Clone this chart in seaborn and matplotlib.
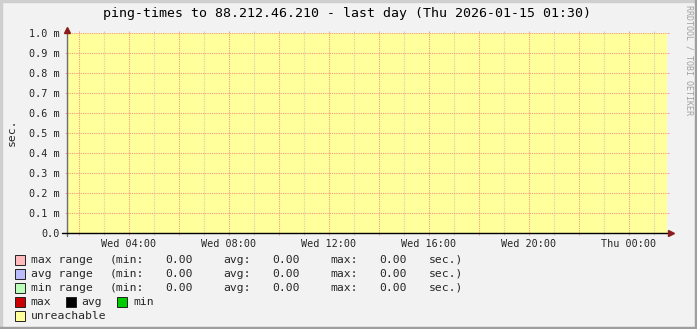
import numpy as np
import pandas as pd
import matplotlib
matplotlib.use("Agg")
import matplotlib.pyplot as plt
from matplotlib.ticker import MultipleLocator, FuncFormatter
from matplotlib.patches import Rectangle
import seaborn as sns

# ---------------- data ----------------
title = "ping-times to 88.212.46.210 - last day (Thu 2026-01-15 01:30)"
y_label = "sec."
watermark = "RRDTOOL / TOBI OETIKER"

# time window, hours since Wed 00:00 (one day ending Thu ~01:30)
window_hours = [1.54, 25.54]
# whole window is unreachable -> area up to top of graph (seconds)
unreachable_top = [1.0e-3, 1.0e-3]

x_tick_hours = [4, 8, 12, 16, 20, 24]
x_tick_labels = ["Wed 04:00", "Wed 08:00", "Wed 12:00", "Wed 16:00", "Wed 20:00", "Thu 00:00"]

y_tick_values = [0.0, 0.0001, 0.0002, 0.0003, 0.0004, 0.0005,
                 0.0006, 0.0007, 0.0008, 0.0009, 0.0010]
y_tick_labels = ["0.0", "0.1 m", "0.2 m", "0.3 m", "0.4 m", "0.5 m",
                 "0.6 m", "0.7 m", "0.8 m", "0.9 m", "1.0 m"]

range_names = ["max range", "avg range", "min range"]
range_min = [0.00, 0.00, 0.00]
range_avg = [0.00, 0.00, 0.00]
range_max = [0.00, 0.00, 0.00]
range_colors = ["#ffbbbb", "#bbbbff", "#bbffbb"]

line_names = ["max", "avg", "min"]
line_colors = ["#cc0000", "#000000", "#00cc00"]

unreach_name = "unreachable"
unreach_color = "#ffff9c"

# ---------------- style ----------------
sns.set_style("white")
plt.rcParams["font.family"] = ["DejaVu Sans Mono", "DejaVu Sans"]

W, H = 697, 329
BG = "#f2f2f2"
fig = plt.figure(figsize=(W / 100, H / 100), dpi=100, facecolor=BG)


def px(x, y):
    return x / W, 1 - y / H


# frame shading
fig.patches.append(Rectangle((0, 0), 2 / W, 1, transform=fig.transFigure, color="#cfcfcf", zorder=0))
fig.patches.append(Rectangle((0, 1 - 2 / H), 1, 2 / H, transform=fig.transFigure, color="#cfcfcf", zorder=0))
fig.patches.append(Rectangle((1 - 2.5 / W, 0), 2.5 / W, 1, transform=fig.transFigure, color="#9e9e9e", zorder=0))
fig.patches.append(Rectangle((0, 0), 1, 2.5 / H, transform=fig.transFigure, color="#9e9e9e", zorder=0))

ax = fig.add_axes([67 / W, 96 / H, 600 / W, 200 / H])
ax.set_facecolor("none")

df = pd.DataFrame({"hour": window_hours, "top": unreachable_top})
sns.lineplot(data=df, x="hour", y="top", ax=ax, color=unreach_color, linewidth=0, legend=False)
ax.fill_between(df["hour"], 0, df["top"], color=unreach_color, linewidth=0, zorder=0.2)

ax.set_xlim(window_hours)
ax.set_ylim(y_tick_values[0], y_tick_values[-1])
ax.set_xlabel("")
ax.set_ylabel("")

label_map = dict(zip(x_tick_hours, x_tick_labels))
ax.xaxis.set_major_locator(MultipleLocator(2))
ax.xaxis.set_minor_locator(MultipleLocator(1))
ax.xaxis.set_major_formatter(FuncFormatter(lambda v, p: label_map.get(int(round(v)), "")))
ax.set_yticks(y_tick_values, y_tick_labels)

dot = (0, (1, 1))
MAJ = "#f59a80"
MIN = "#d9d3a6"
ax.grid(which="major", axis="x", color=MAJ, linestyle=dot, linewidth=0.8)
ax.grid(which="minor", axis="x", color=MIN, linestyle=dot, linewidth=0.8)
ax.grid(which="major", axis="y", color=MAJ, linestyle=dot, linewidth=0.8)
ax.set_axisbelow(False)

for s in ax.spines.values():
    s.set_visible(False)

ax.tick_params(axis="x", which="major", length=1.5, width=0.72, color="#ff9d9d",
               labelsize=7.3, pad=2.5, top=True, bottom=True)
ax.tick_params(axis="x", which="minor", length=1.5, width=0.72, color="#c8c8c8",
               top=True, bottom=True)
ax.tick_params(axis="y", which="major", length=1.5, width=0.72, color="#ff9d9d",
               labelsize=7.3, pad=3.5, left=True, right=True)

# axis lines with arrows
AX_GRAY = "#6f6f6f"
ARROW = "#8c1c1c"
ax.plot([0, 0], [-2.5 / 200, 1 + 3 / 200], transform=ax.transAxes, clip_on=False,
        color=AX_GRAY, linewidth=1.0, zorder=5)
ax.plot([-5 / 600, 1 + 2 / 600], [0, 0], transform=ax.transAxes, clip_on=False,
        color="#000000", linewidth=1.0, zorder=5)
ax.plot([0], [1 + 3.5 / 200], marker="^", markersize=4.5, color=ARROW,
        transform=ax.transAxes, clip_on=False, zorder=6, linestyle="none")
ax.plot([1 + 4 / 600], [0], marker=">", markersize=4.5, color=ARROW,
        transform=ax.transAxes, clip_on=False, zorder=6, linestyle="none")

# texts
fig.text(*px(347, 14), title, ha="center", va="center", fontsize=9.5, color="#000000")
fig.text(*px(12, 132), y_label, ha="center", va="center", rotation=90, fontsize=8.2)
fig.text(*px(688.5, 60), watermark, ha="center", va="center", rotation=270,
         fontsize=6, color="#a0a0a0")

LEG_FS = 8.2
row_y = [260, 274, 288, 302, 316]


def swatch(x, y, color):
    fig.patches.append(Rectangle(px(x, y + 5), 10 / W, 10 / H, transform=fig.transFigure,
                                 facecolor=color, edgecolor="#222222", linewidth=0.7, zorder=3))


for i, name in enumerate(range_names):
    y = row_y[i]
    swatch(15, y, range_colors[i])
    fig.text(*px(30.7, y), name, ha="left", va="center", fontsize=LEG_FS)
    fig.text(*px(110, y), "(min:", ha="left", va="center", fontsize=LEG_FS)
    fig.text(*px(165.7, y), f"{range_min[i]:.2f}", ha="left", va="center", fontsize=LEG_FS)
    fig.text(*px(223, y), "avg:", ha="left", va="center", fontsize=LEG_FS)
    fig.text(*px(272.7, y), f"{range_avg[i]:.2f}", ha="left", va="center", fontsize=LEG_FS)
    fig.text(*px(330.7, y), "max:", ha="left", va="center", fontsize=LEG_FS)
    fig.text(*px(379.3, y), f"{range_max[i]:.2f}", ha="left", va="center", fontsize=LEG_FS)
    fig.text(*px(428.3, y), "sec.)", ha="left", va="center", fontsize=LEG_FS)

line_x = [15, 66, 117.3]
for i, name in enumerate(line_names):
    swatch(line_x[i], row_y[3], line_colors[i])
    fig.text(*px(line_x[i] + 15.7, row_y[3]), name, ha="left", va="center", fontsize=LEG_FS)

swatch(15, row_y[4], unreach_color)
fig.text(*px(30.7, row_y[4]), unreach_name, ha="left", va="center", fontsize=LEG_FS)

fig.savefig("out.png", dpi=100, facecolor=BG)
